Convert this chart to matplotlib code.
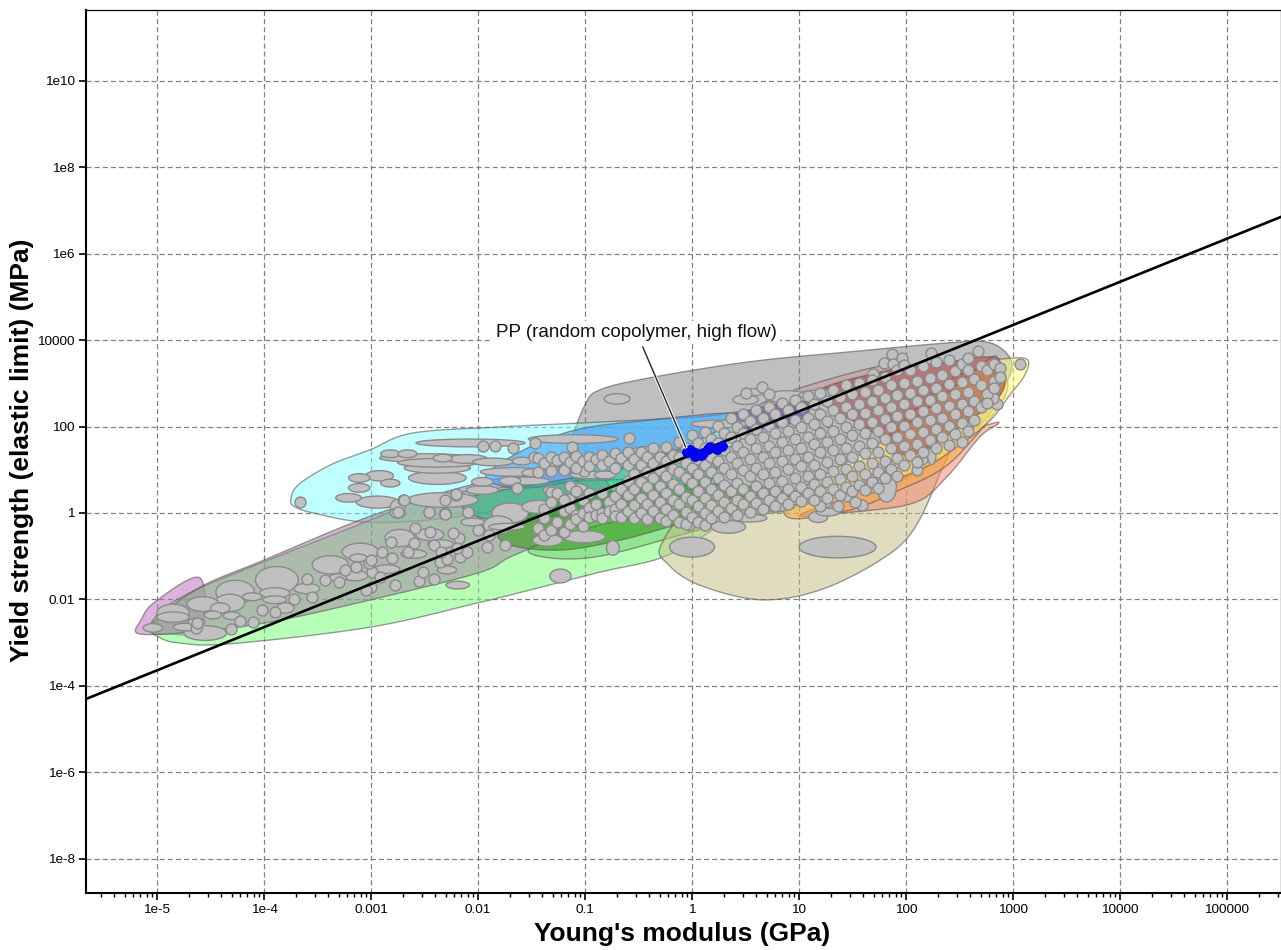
"""Ashby style chart: yield strength vs Young's modulus, envelopes and material bubbles."""
import numpy as np
import matplotlib
matplotlib.use("Agg")
import matplotlib.pyplot as plt
import matplotlib.patheffects as pe
from matplotlib.ticker import LogLocator, NullLocator

plt.rcParams["font.family"] = ["Liberation Sans", "DejaVu Sans"]

XLIM = (10 ** -5.664, 10 ** 5.505)
YLIM = (10 ** -8.796, 10 ** 11.64)
x_ticks = [1e-5, 1e-4, 1e-3, 1e-2, 1e-1, 1, 10, 100, 1000, 10000, 100000]
x_labels = ["1e-5", "1e-4", "0.001", "0.01", "0.1", "1", "10", "100", "1000", "10000", "100000"]
y_ticks = [1e-8, 1e-6, 1e-4, 1e-2, 1, 100, 10000, 1e6, 1e8, 1e10]
y_labels = ["1e-8", "1e-6", "1e-4", "0.01", "1", "100", "10000", "1e6", "1e8", "1e10"]

# guide line, log10 of E and yield strength at both ends
guide_logE = [-5.664, 5.505]
guide_logS = [-4.306, 6.852]

# envelopes: closed outlines, log10(E), log10(strength)
gray_logE = [-1.14, -1.00, -.86, -.39, .54, 1.48, 2.41, 2.74, 2.91, 2.99, 2.93, 2.74, 2.41, 1.94, 1.01, .07, -.86, -1.12]
gray_logS = [1.57, 2.50, 2.85, 3.13, 3.50, 3.73, 3.94, 3.96, 3.77, 3.43, 2.96, 2.15, 1.46, .76, .30, .53, .76, 1.11]
cyan_logE = [-3.75, -3.68, -3.38, -3.01, -2.61, -1.79, -1.05, .05, .50, .45, -.11, -.86, -1.79, -2.45, -3.07, -3.54, -3.71]
cyan_logS = [.30, .65, 1.11, 1.46, 1.85, 1.99, 2.08, 2.22, 2.31, 1.69, 1.0, .42, .07, -.16, -.21, 0, .14]
blue_logE = [-1.93, -1.61, -1.09, -.39, .42, .07, -.67, -1.51]
blue_logS = [.81, 1.41, 1.92, 2.15, 2.29, 1.69, 1.0, .58]
teal_logE = [-2.07, -1.23, -.67, .07, .26, .07, -.86, -1.79, -2.12]
teal_logS = [.37, .76, 1.04, 1.57, 1.46, .53, .07, -.16, .07]
pink_logE = [-5.19, -5.15, -5.02, -4.6, -4.6, -4.93]
pink_logS = [-2.78, -2.48, -2.06, -1.5, -2.7, -2.8]
lime_logE = [-5.07, -4.93, -4.60, -4.0, -3.0, -2.54, -2.0, -.86, .07, .5, .23, -.27, -.86, -1.70, -2.0, -3.0, -4.32, -4.79, -4.97]
lime_logS = [-2.66, -2.20, -1.74, -1.13, -.16, .30, .53, .76, .72, .42, -.32, -1.02, -1.37, -1.90, -2.08, -2.64, -3.03, -3.01, -2.89]
foam_logE = [-5.0, -4.6, -4.0, -3.0, -2.0, -1.23, -.86, -.77, -1.23, -1.70, -2.0, -3.0, -4.0, -4.88, -5.05]
foam_logS = [-2.45, -1.72, -1.09, -.07, .69, 1.0, .88, .19, -.51, -1.02, -1.39, -2.01, -2.55, -2.80, -2.75]
green_logE = [-1.79, -1.33, -.67, .07, .82, .92, .07, -.67, -1.23, -1.70]
green_logS = [-.39, .19, .53, .65, .53, .07, -.16, -.63, -.86, -.74]
green2_logE = [-1.51, -.86, -.30, .26, .40, -.11, -.86, -1.33]
green2_logS = [-.81, -.28, -.05, .19, -.12, -.51, -1.0, -1.04]
beige_logE = [-.29, -.22, .07, .64, 1.2, 1.76, 2.07, 2.32, 2.44, 1.94, 1.01, .07]
beige_logS = [-.74, -1.2, -1.67, -2.01, -1.78, -1.09, -.39, .93, 1.85, 1.23, .53, .19]
salmon_logE = [1.41, 2.07, 2.38, 2.69, 2.86, 2.79, 2.32, 1.94, 1.48, 1.01]
salmon_logS = [0, .23, .83, 1.76, 2.06, 2.06, 1.69, 1.23, .42, -.05]
orange_logE = [.92, 1.48, 1.94, 2.35, 2.66, 2.93, 2.88, 2.41, 1.48, .92]
orange_logS = [-.12, .07, .53, 1.04, 1.81, 2.73, 3.19, 3.08, 1.0, .42]
yellow_logE = [3.13, 3.11, 2.97, 2.79, 2.50, 2.13, 1.57, 1.01, 1.01, 1.94, 2.74, 2.88]
yellow_logS = [3.56, 3.19, 2.73, 2.15, 1.57, 1.0, .53, .19, .53, 1.92, 3.5, 3.56]
rose_logE = [.59, 1.01, 1.76, 1.94, 1.29, .73]
rose_logS = [2.43, 2.89, 3.4, 3.31, 2.62, 2.2]
red_logE = [1.15, 1.76, 2.41, 2.74, 2.88, 2.88, 2.32, 1.99, 1.66]
red_logS = [2.73, 3.26, 3.5, 3.61, 3.5, 2.73, 1.69, 1.34, 1.92]
purple_logE = [.33, .85, 1.10, 1.01, .54]
purple_logS = [2.22, 2.55, 2.62, 2.15, 1.92]

# wide property ranges: centre logE, centre logS, half range logE, half range logS
foam_bubbles = [
    (-5.04, -2.66, .09, .10), (-4.85, -2.31, .15, .20), (-4.85, -2.41, .15, .12), (-4.55, -2.78, .20, .17),
    (-4.57, -2.11, .15, .17), (-4.32, -2.08, .14, .20), (-4.41, -2.20, .09, .12), (-4.48, -2.36, .08, .09),
    (-4.30, -2.38, .08, .09), (-4.63, -2.52, .08, .08), (-4.72, -2.64, .13, .09), (-4.27, -1.83, .18, .27),
    (-4.11, -1.94, .09, .09), (-3.88, -1.55, .20, .31), (-3.90, -1.85, .14, .12), (-3.90, -2.01, .11, .09),
    (-3.80, -2.20, .08, .12), (-3.38, -1.20, .17, .21), (-3.31, -1.50, .08, .09), (-3.10, -.90, .17, .20),
    (-3.12, -1.04, .08, .09), (-2.73, -.58, .14, .20), (-2.45, -.50, .13, .14), (-2.19, -1.67, .11, .09),
    (-2.29, -1.32, .09, .09), (-2.05, -.21, .11, .09), (-1.81, -.28, .14, .21), (-3.6, -1.75, .12, .12),
    (-3.15, -1.45, .12, .12), (-2.85, -1.3, .12, .10), (-2.6, -.95, .12, .10), (-2.35, -.72, .12, .10),
]
soft_bubbles = [
    (-1.70, 0, .17, .23), (-1.44, .14, .15, .15), (-1.73, -.32, .17, .08), (-1.01, -.55, .20, .14),
    (-1.35, -.63, .14, .14), (-.74, -.81, .06, .17), (-1.23, -1.46, .10, .16), (0, -.79, .21, .23),
    (1.36, -.79, .36, .25), (-.70, 2.64, .12, .12), (-2.07, 1.62, .51, .09), (-1.11, 1.71, .42, .10),
    (-2.48, 1.27, .44, .10), (-2.82, 1.37, .09, .09), (-2.66, 1.37, .09, .09), (-2.33, 1.27, .09, .09),
    (-2.38, 1.16, .37, .10), (-2.38, 1.04, .31, .12), (-2.38, .81, .27, .15), (-2.10, 1.25, .19, .10),
    (-1.67, .95, .31, .10), (-1.86, 1.18, .19, .09), (-1.59, 1.20, .09, .09), (-1.56, .74, .23, .09),
    (-1.96, .72, .10, .10), (-1.70, .74, .10, .10), (-1.96, .53, .15, .10), (-1.49, .93, .10, .09),
    (-1.07, .58, .09, .10), (-1.31, .53, .08, .10), (-3.11, .81, .10, .10), (-3.11, .58, .10, .10),
    (-2.92, .86, .13, .12), (-2.82, .69, .09, .09), (-3.21, .35, .12, .10), (-2.94, .25, .20, .14),
    (-2.33, .30, .33, .17), (-2.75, .14, .07, .17), (-2.75, 0, .07, .12), (-.36, 1.46, .20, .08),
    (-.97, .88, .17, .09), (-.81, .88, .10, .09),
]
stiff_bubbles = [
    (.26, 2.06, .27, .09), (.50, 2.62, .12, .11), (.89, 2.69, .20, .14), (.59, 2.80, .10, .08),
    (1.22, 2.73, .22, .12), (.34, -.32, .16, .15), (.54, -.12, .16, .09), (.79, .14, .12, .11),
    (1.07, .35, .12, .09), (1.18, -.09, .09, .13), (1.82, .60, .09, .35), (2.24, 1.32, .04, .20),
    (1.27, .02, .11, .09), (1.22, .25, .09, .15), (1.64, .53, .08, .08), (2.60, 1.97, .03, .20),
]

# single grades, tail of the band
tail_logE = [-4.22, -4.10, -4.31, -4.64, -4.63, -4.02, -3.90, -3.72, -3.55, -3.60, -3.43, -3.24, -3.14, -2.99,
             -3.02, -2.80, -2.65, -2.81, -2.59, -2.41, -2.18, -2.23, -2.78, -2.55, -2.41, -2.51, -2.36, -2.29,
             -2.17, -2.10, -1.92, -1.75, -2.92, -3.00, -3.05, -2.31, -2.46, -2.09, -2.21, -2.31, -2.70, -2.75,
             -3.3, -3.0, -2.9, -2.6, -2.45, -2.35, -2.2, -2.0, -1.9, -3.66, -2.69, -2.31, -2.21, -2.46, -2.31,
             -2.09, -1.64, -1.32, -1.15, -.59, -1.12, -1.47, -1.95, -1.84, -1.67, -1.48, -1.28, -1.10, -1.01]
tail_logS = [-2.50, -2.52, -2.69, -2.66, -2.55, -2.25, -2.29, -1.99, -1.94, -1.53, -1.55, -1.32, -1.25, -1.37,
             -1.16, -1.04, -.90, -.67, -.35, -.74, -.58, -.46, -1.67, -1.57, -1.53, -1.37, -1.13, -1.06,
             -1.02, -.90, -.79, -.74, -1.48, -1.71, -1.78, 0, .02, .02, .42, .30, .30, .02,
             -1.6, -1.1, -.9, -.7, -.45, -.9, -.8, -.4, -.5, .25, .30, -.02, .44, .02, -.02,
             .02, .58, .49, .33, 1.74, 1.53, 1.63, 1.56, 1.56, 1.51, 1.30, 1.18, 1.30, .96]

# single grades, main cloud: one logE per entry of cloud_logS
cloud_logE = [-1.44, -1.38, -1.32, -1.26, -1.2, -1.14, -1.08, -1.02, -.96, -.9, -.84, -.78, -.72, -.66, -.6, -.54,
              -.48, -.42, -.36, -.3, -.24, -.18, -.12, -.06, 0, .06, .12, .18, .24, .3, .36, .42, .48, .54, .6, .66,
              .72, .78, .84, .9, .96, 1.02, 1.08, 1.14, 1.2, 1.26, 1.32, 1.38, 1.44, 1.5, 1.56, 1.62, 1.68, 1.74,
              1.8, 1.86, 1.92, 1.98, 2.04, 2.1, 2.16, 2.22, 2.28, 2.34, 2.4, 2.46, 2.52, 2.58, 2.64, 2.7, 2.76,
              2.82, 2.88]
cloud_logS = [
    [1.28, .95, -.35], [1.15, .1, -.12, -.5], [1.3, .98, .25, -.4], [1.22, .45, -.2], [1.3, 1.0, .3, .05, -.45],
    [1.18, .62, .12, -.25], [1.32, 1.05, .5, -.05, -.15], [1.2, .3, .0, -.3], [1.3, 1.08, .45, .12, -.1],
    [1.25, .2, -.05], [1.35, 1.1, .45, .0, -.12], [1.2, .25, .05], [1.38, 1.05, .4, .1, -.08], [1.28, .55, .2, -.1],
    [1.4, 1.12, .75, .42, .05], [1.25, .9, .55, .18, -.12], [1.42, 1.1, .72, .35, .0], [1.3, .95, .6, .2, -.15],
    [1.5, 1.15, .8, .42, .05], [1.3, 1.0, .62, .25, -.12], [1.52, 1.2, .85, .45, .1, -.18], [1.35, 1.02, .68, .3, -.05],
    [1.65, 1.3, .95, .55, .2, -.2], [1.5, 1.15, .8, .38, .02, -.25], [1.8, 1.42, 1.05, .7, .3, -.1],
    [1.62, 1.25, .9, .5, .15, -.2], [1.88, 1.5, 1.1, .72, .35, .0, -.28], [1.7, 1.3, .95, .55, .18, -.12],
    [2.02, 1.62, 1.2, .8, .42, .05], [1.85, 1.45, 1.05, .65, .25, -.1], [2.2, 1.75, 1.3, .9, .5, .12],
    [2.0, 1.55, 1.15, .7, .3, -.05], [2.3, 1.85, 1.4, 1.0, .55, .2], [2.12, 1.7, 1.25, .85, .4, .02],
    [2.38, 1.95, 1.5, 1.05, .62, .22], [2.2, 1.75, 1.3, .9, .45, .08], [2.45, 2.02, 1.55, 1.15, .7, .3],
    [2.3, 1.85, 1.4, .95, .5, .15], [2.55, 2.1, 1.65, 1.2, .75, .35], [2.38, 1.9, 1.45, 1.02, .55, .2],
    [2.62, 2.15, 1.7, 1.25, .8, .4], [2.45, 2.0, 1.5, 1.08, .6, .28], [2.7, 2.2, 1.75, 1.3, .85, .45],
    [2.52, 2.05, 1.6, 1.12, .68, .3], [2.78, 2.3, 1.85, 1.4, .9, .5], [2.6, 2.12, 1.65, 1.18, .72, .35],
    [2.85, 2.38, 1.9, 1.45, .98, .55], [2.68, 2.2, 1.72, 1.25, .78, .42], [2.95, 2.45, 1.98, 1.5, 1.02, .6],
    [2.75, 2.28, 1.8, 1.3, .85, .5], [3.0, 2.52, 2.05, 1.55, 1.08, .65], [2.8, 2.32, 1.85, 1.38, .9, .52],
    [3.08, 2.6, 2.1, 1.62, 1.15, .72], [2.85, 2.38, 1.9, 1.42, .95, .58], [3.15, 2.65, 2.18, 1.7, 1.2, .8],
    [2.95, 2.45, 1.98, 1.5, 1.02], [3.3, 2.72, 2.25, 1.75, 1.28, .85], [3.42, 3.0, 2.52, 2.02, 1.55, 1.1],
    [3.3, 2.78, 2.3, 1.82, 1.35], [3.05, 2.58, 2.1, 1.6, 1.18], [3.4, 2.85, 2.35, 1.88, 1.42],
    [3.12, 2.62, 2.15, 1.68], [3.5, 2.9, 2.42, 1.95, 1.5], [3.2, 2.7, 2.2, 1.75], [3.55, 2.98, 2.48, 2.02, 1.58],
    [3.28, 2.75, 2.28, 1.82], [3.45, 3.02, 2.52, 2.08, 1.65], [3.58, 3.3, 2.8, 2.35, 1.9], [3.1, 2.6, 2.15],
    [3.4, 2.95, 2.45], [3.3, 2.75, 2.55], [3.45, 3.05, 2.9], [3.35, 3.15],
]

# outliers around the cloud
edge_logE = [1.87, 1.96, 1.79, 1.88, 2.23, 2.67, 3.07, 1.69, 2.85, 2.81, 1.46, .65, .50, .72, 2.15, 1.90, 1.45,
             1.36, 1.59, 1.52, 1.66, 1.20, -.03, -.41, 1.75, 2.1]
edge_logS = [3.68, 3.59, 3.47, 3.44, 3.70, 3.75, 3.45, 3.22, 2.52, 2.66, 2.85, 2.92, 2.78, 2.75, 1.25, 1.16, .39,
             .16, .19, .26, .79, .16, -.28, -.16, 1.02, 1.0]

# highlighted material
pp_logE = [-.05, .03, .03, .10, .15, .17, .23, .28, -.02, .08]
pp_logS = [1.41, 1.39, 1.32, 1.39, 1.48, 1.53, 1.48, 1.55, 1.46, 1.34]
pp_name = "PP (random copolymer, high flow)"
pp_leader_logE = [-.46, -.06]
pp_leader_logS = [3.84, 1.53]


def smooth_closed(xs, ys, n=14):
    """Closed Catmull-Rom outline through the given log10 points."""
    p = np.column_stack([xs, ys])
    out = []
    for i in range(len(p)):
        p0, p1, p2, p3 = p[i - 1], p[i], p[(i + 1) % len(p)], p[(i + 2) % len(p)]
        for t in np.linspace(0, 1, n, endpoint=False):
            out.append(0.5 * (2 * p1 + (p2 - p0) * t + (2 * p0 - 5 * p1 + 4 * p2 - p3) * t ** 2
                              + (3 * p1 - p0 - 3 * p2 + p3) * t ** 3))
    return 10 ** np.array(out)


def envelope(ax, xs, ys, color, alpha=0.5):
    pts = smooth_closed(xs, ys)
    ax.fill(pts[:, 0], pts[:, 1], facecolor=(*color, alpha), edgecolor=(.35, .35, .35, .6), lw=1.0, zorder=2)


def range_bubble(ax, cx, cy, hx, hy):
    th = np.linspace(0, 2 * np.pi, 50)
    ax.fill(10 ** (cx + hx * np.cos(th)), 10 ** (cy + hy * np.sin(th)),
            facecolor="#c0c0c0", edgecolor="#8a8a8a", lw=1.0, zorder=3)


fig = plt.figure(figsize=(12.81, 9.5), dpi=100)
ax = fig.add_axes([86 / 1281, 57 / 950, 1195 / 1281, 883 / 950])
ax.set_xscale("log")
ax.set_yscale("log")
ax.set_xlim(XLIM)
ax.set_ylim(YLIM)

envelope(ax, gray_logE, gray_logS, (.5, .5, .5))
envelope(ax, cyan_logE, cyan_logS, (.5, 1, 1))
envelope(ax, pink_logE, pink_logS, (.75, .4, .75))
envelope(ax, lime_logE, lime_logS, (.45, 1, .45))
envelope(ax, foam_logE, foam_logS, (.635, .48, .615))
envelope(ax, blue_logE, blue_logS, (.25, .62, 1), 0.6)
envelope(ax, teal_logE, teal_logS, (.1, .7, .5))
envelope(ax, green2_logE, green2_logS, (.3, .7, .3), 0.35)
envelope(ax, green_logE, green_logS, (.2, .6, .1), 0.6)
envelope(ax, beige_logE, beige_logS, (.76, .73, .51))
envelope(ax, salmon_logE, salmon_logS, (.95, .5, .4))
envelope(ax, orange_logE, orange_logS, (1, .65, .2))
envelope(ax, yellow_logE, yellow_logS, (1, 1, .45))
envelope(ax, rose_logE, rose_logS, (.85, .4, .4), 0.25)
envelope(ax, red_logE, red_logS, (.75, .2, .2), 0.55)
envelope(ax, purple_logE, purple_logS, (.35, .2, .75), 0.6)

# big ranges go first so the small ones stay visible
all_bubbles = foam_bubbles + soft_bubbles + stiff_bubbles
for b in sorted(all_bubbles, key=lambda r: -r[2] * r[3]):
    range_bubble(ax, *b)

dot_E = list(tail_logE) + list(edge_logE)
dot_S = list(tail_logS) + list(edge_logS)
for e, col in zip(cloud_logE, cloud_logS):
    for s in col:
        dot_E.append(e)
        dot_S.append(s)
ax.scatter(10 ** np.array(dot_E), 10 ** np.array(dot_S), s=62, c="#c0c0c0", edgecolors="#8a8a8a",
           linewidths=1.0, zorder=4)

ax.plot(10 ** np.array(guide_logE), 10 ** np.array(guide_logS), color="black", lw=1.9, zorder=5)
ax.scatter(10 ** np.array(pp_logE), 10 ** np.array(pp_logS), s=50, c="#0000ff", edgecolors="#0000c8",
           linewidths=0.6, zorder=6)
ax.plot(10 ** np.array(pp_leader_logE), 10 ** np.array(pp_leader_logS), color="#222222", lw=1.0, zorder=7,
        path_effects=[pe.Stroke(linewidth=2.4, foreground="white"), pe.Normal()])
ax.text(10 ** -.52, 10 ** 4.17, pp_name, fontsize=13.5, ha="center", va="center", color="#111111", zorder=7,
        bbox=dict(facecolor="white", edgecolor="none", pad=2))

ax.set_xticks(x_ticks, x_labels)
ax.set_yticks(y_ticks, y_labels)
ax.xaxis.set_minor_locator(LogLocator(base=10, subs=range(2, 10), numticks=100))
ax.xaxis.set_minor_formatter(plt.NullFormatter())
ax.yaxis.set_minor_locator(NullLocator())
ax.tick_params(axis="both", which="major", labelsize=9.7, length=5, width=1.2, pad=3)
ax.tick_params(axis="x", which="minor", length=3, width=1.0)
ax.grid(True, which="major", color="#808080", ls=(0, (4, 2.5)), lw=0.9)
ax.set_axisbelow(True)
for side in ("left", "bottom"):
    ax.spines[side].set_linewidth(1.5)
for side in ("top", "right"):
    ax.spines[side].set_linewidth(0.9)

fig.text(682 / 1281, 1 - 934 / 950, "Young's modulus (GPa)", fontsize=19, fontweight="bold", ha="center", va="center")
fig.text(22 / 1281, 1 - 450 / 950, "Yield strength (elastic limit) (MPa)", fontsize=19, fontweight="bold",
         rotation=90, ha="center", va="center")

fig.savefig("out.png", dpi=100)
